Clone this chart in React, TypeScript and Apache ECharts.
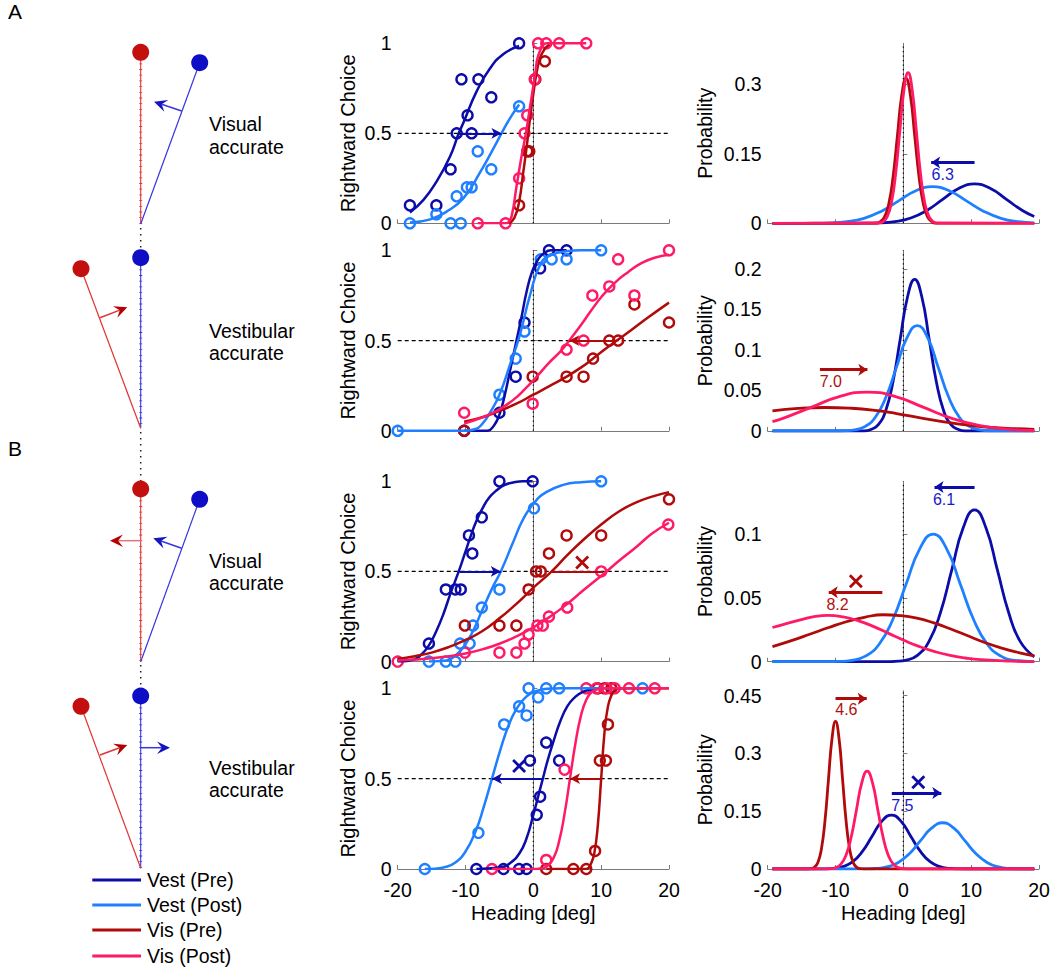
import React, { useEffect, useRef } from 'react';
import * as echarts from 'echarts';

type Pt = [number, number];

// ---------------- tick values / labels ----------------
const headingTicks = [-20, -10, 0, 10, 20];
const choiceTicks = [0, 0.5, 1];
const probTicksA1 = [0, 0.15, 0.3];
const probTicksA2 = [0, 0.05, 0.1, 0.15, 0.2];
const probTicksB1 = [0, 0.05, 0.1];
const probTicksB2 = [0, 0.15, 0.3, 0.45];
const probMaxes = [0.3885, 0.2226, 0.1413, 0.4627];
const probSteps = [0.15, 0.05, 0.05, 0.15];
const legendLabels = ['Vest (Pre)', 'Vest (Post)', 'Vis (Pre)', 'Vis (Post)'];
const rowTitles = [['Visual', 'accurate'], ['Vestibular', 'accurate'], ['Visual', 'accurate'], ['Vestibular', 'accurate']];
const panelLetters = ['A', 'B'];

// ---------------- Row A1 (visual accurate) ----------------
const a1VestPreObs: Pt[] = [[-18.2, 0.1], [-14.3, 0.1], [-12.2, 0.3], [-11.3, 0.5], [-10.6, 0.8], [-9.7, 0.6], [-9.1, 0.5], [-8.1, 0.8], [-6.2, 0.7], [-2.1, 1]];
const a1VestPostObs: Pt[] = [[-18.2, 0], [-14.3, 0.05], [-12.2, 0], [-10.7, 0], [-11.3, 0.15], [-9.8, 0.2], [-9.1, 0.2], [-8.2, 0.4], [-6.2, 0.3], [-2.1, 0.65]];
const a1VisPreObs: Pt[] = [[-2.1, 0.1], [-0.9, 0.4], [-0.6, 0.4], [0.3, 0.8], [1.7, 0.9]];
const a1VisPostObs: Pt[] = [[-8.2, 0], [-4.1, 0], [-2.1, 0.25], [-1.3, 0.5], [-0.9, 0.6], [0.2, 0.8], [0.7, 1], [1.9, 1], [3.8, 1], [7.8, 1]];
const a1VestPreFit: Pt[] = [[-18.2, 0.06], [-16.2, 0.13], [-14.3, 0.23], [-12.3, 0.37], [-11.0, 0.5], [-10.3, 0.56], [-8.4, 0.73], [-6.4, 0.86], [-4.4, 0.94], [-2.1, 0.985]];
const a1VestPostFit: Pt[] = [[-18.2, 0.004], [-15.2, 0.022], [-12.8, 0.065], [-10.3, 0.14], [-7.9, 0.28], [-5.4, 0.45], [-4.7, 0.5], [-3.5, 0.58], [-2.1, 0.66]];
const a1VisPreFit: Pt[] = [[-3.6, 0], [-2.8, 0.03], [-2.1, 0.12], [-1.5, 0.28], [-1.0, 0.42], [-0.5, 0.58], [0, 0.72], [0.5, 0.84], [1.0, 0.92], [1.7, 0.97], [2.4, 0.995]];
const a1VisPostFit: Pt[] = [[-8.2, 0], [-4.1, 0], [-3.7, 0.005], [-3.2, 0.04], [-2.5, 0.2], [-1.8, 0.36], [-1.1, 0.5], [-0.6, 0.62], [-0.1, 0.74], [0.3, 0.84], [0.7, 0.93], [1.45, 0.99], [2.0, 1], [7.8, 1]];
const a1PseArrow = [-11.0, -4.7];
const a1VestPreDist: Pt[] = [[-19.3, 0], [-8.3, 0], [-5.95, 0.0002], [-3.6, 0.0009], [-1.25, 0.0037], [1.1, 0.0115], [3.45, 0.0276], [5.8, 0.0516], [8.15, 0.075], [10.5, 0.085], [12.85, 0.075], [15.2, 0.0516], [17.55, 0.0276], [19.3, 0.0148]];
const a1VestPostDist: Pt[] = [[-19.3, 0], [-15.9, 0], [-13.375, 0.0002], [-10.85, 0.0009], [-8.325, 0.0035], [-5.8, 0.0107], [-3.275, 0.0257], [-0.75, 0.0479], [1.775, 0.0697], [4.3, 0.079], [6.825, 0.0697], [9.35, 0.0479], [11.875, 0.0257], [14.4, 0.0107], [16.925, 0.0035], [19.3, 0.001]];
const a1VisPreDist: Pt[] = [[-19.3, 0], [-4.0, 0], [-3.41, 0.0035], [-2.775, 0.0137], [-2.14, 0.0424], [-1.505, 0.1016], [-0.87, 0.1898], [-0.235, 0.2762], [0.4, 0.313], [1.035, 0.2762], [1.67, 0.1898], [2.305, 0.1016], [2.94, 0.0424], [3.575, 0.0137], [4.21, 0.0035], [4.8, 0], [19.3, 0]];
const a1VisPostDist: Pt[] = [[-19.3, 0], [-3.6, 0.0007], [-2.99, 0.0036], [-2.375, 0.0143], [-1.76, 0.044], [-1.145, 0.1055], [-0.53, 0.1971], [0.085, 0.2868], [0.7, 0.325], [1.315, 0.2868], [1.93, 0.1971], [2.545, 0.1055], [3.16, 0.044], [3.775, 0.0143], [4.39, 0.0036], [5.0, 0.0007], [19.3, 0]];
const a1DistArrow = [10.5, 4.1, 0.131];
const a1DistLabel: [number, number, string] = [5.8, 0.106, '6.3'];

// ---------------- Row A2 (vestibular accurate) ----------------
const a2VestPreObs: Pt[] = [[-10.2, 0], [-5.0, 0.1], [-2.6, 0.3], [-1.3, 0.6], [1.0, 0.9], [2.3, 1], [4.9, 1]];
const a2VestPostObs: Pt[] = [[-20, 0], [-5.0, 0.2], [-2.6, 0.4], [-1.3, 0.55], [1.1, 0.95], [2.7, 0.95], [4.9, 0.95], [10, 1]];
const a2VisPreObs: Pt[] = [[-10.2, 0], [-0.1, 0.3], [4.9, 0.3], [7.4, 0.3], [8.8, 0.4], [11.2, 0.5], [12.5, 0.5], [14.9, 0.7], [20, 0.6]];
const a2VisPostObs: Pt[] = [[-10.2, 0.1], [-0.1, 0.15], [4.9, 0.45], [7.4, 0.5], [8.7, 0.75], [11.2, 0.8], [12.5, 0.95], [14.9, 0.75], [20, 1]];
const a2VestPreFit: Pt[] = [[-10.2, 0], [-6.8, 0], [-5.8, 0.03], [-5.0, 0.09], [-4.2, 0.2], [-3.4, 0.34], [-2.6, 0.48], [-1.8, 0.62], [-1.0, 0.77], [-0.2, 0.88], [0.7, 0.95], [1.6, 0.985], [2.6, 1], [4.9, 1]];
const a2VestPostFit: Pt[] = [[-20, 0], [-10.2, 0], [-8.5, 0.01], [-7.5, 0.04], [-6.4, 0.1], [-5.0, 0.2], [-3.5, 0.36], [-2.0, 0.53], [-0.5, 0.75], [1.0, 0.92], [2.4, 0.97], [4.9, 0.995], [7, 1], [10, 1]];
const a2VisPreFit: Pt[] = [[-10.2, 0.05], [-7.5, 0.075], [-5, 0.11], [-2.5, 0.15], [0, 0.2], [2.5, 0.25], [4.9, 0.3], [7, 0.35], [8.8, 0.4], [10.5, 0.45], [12.3, 0.5], [14.5, 0.56], [17, 0.63], [20, 0.71]];
const a2VisPostFit: Pt[] = [[-10.2, 0.04], [-7.5, 0.075], [-5.4, 0.11], [-3.0, 0.17], [-1.0, 0.24], [0.5, 0.3], [2.4, 0.38], [4.0, 0.44], [5.3, 0.5], [7.0, 0.585], [8.5, 0.665], [10.0, 0.74], [12.0, 0.82], [14.0, 0.88], [16.0, 0.93], [18.0, 0.96], [20, 0.975]];
const a2PseArrow = [12.3, 5.3];
const a2VestPreDist: Pt[] = [[-19.3, 0], [-5.8, 0], [-4.72, 0.0021], [-3.655, 0.0082], [-2.59, 0.0253], [-1.525, 0.0607], [-0.46, 0.1134], [0.605, 0.165], [1.67, 0.187], [2.735, 0.165], [3.8, 0.1134], [4.865, 0.0607], [5.93, 0.0253], [6.995, 0.0082], [8.06, 0.0021], [9.1, 0], [19.3, 0]];
const a2VestPostDist: Pt[] = [[-19.3, 0], [-10.2, 0], [-8.685, 0.0003], [-7.15, 0.0014], [-5.615, 0.0057], [-4.08, 0.0176], [-2.545, 0.0422], [-1.01, 0.0788], [0.525, 0.1147], [2.06, 0.13], [3.595, 0.1147], [5.13, 0.0788], [6.665, 0.0422], [8.2, 0.0176], [9.735, 0.0057], [11.27, 0.0014], [12.8, 0.0003], [19.3, 0]];
const a2VisPreDist: Pt[] = [[-19.3, 0.0248], [-15.5, 0.0278], [-11.5, 0.029], [-8, 0.0282], [-4.5, 0.0258], [-1, 0.0215], [2.5, 0.0163], [6, 0.0113], [9.5, 0.0072], [13, 0.0043], [16.5, 0.0028], [19.3, 0.002]];
const a2VisPostDist: Pt[] = [[-19.3, 0.0116], [-17.75, 0.0156], [-13.6, 0.0291], [-9.45, 0.0424], [-5.3, 0.048], [-1.15, 0.0424], [3.0, 0.0291], [7.15, 0.0156], [11.3, 0.0065], [15.45, 0.0021], [19.3, 0.0006]];
const a2DistArrow = [-12.3, -5.3, 0.0756];
const a2DistLabel: [number, number, string] = [-10.7, 0.061, '7.0'];

// ---------------- Row B1 (visual accurate) ----------------
const b1VestPreObs: Pt[] = [[-15.4, 0.1], [-12.9, 0.4], [-11.5, 0.4], [-10.7, 0.4], [-9.5, 0.7], [-9.0, 0.6], [-7.6, 0.8], [-5.0, 1], [-0.1, 1]];
const b1VestPostObs: Pt[] = [[-15.4, 0], [-12.9, 0], [-11.5, 0], [-10.8, 0.1], [-9.4, 0.1], [-8.9, 0.2], [-7.6, 0.3], [-5.0, 0.4], [0.1, 0.85], [10, 1]];
const b1VisPreObs: Pt[] = [[-10.1, 0.2], [-5.0, 0.2], [-2.5, 0.2], [-0.7, 0.4], [0.4, 0.5], [1.1, 0.5], [2.3, 0.6], [4.9, 0.7], [10, 0.7], [20, 0.9]];
const b1VisPostObs: Pt[] = [[-20, 0], [-10.1, 0.05], [-5.0, 0.05], [-2.5, 0.05], [-1.3, 0.1], [-0.7, 0.15], [0.6, 0.2], [1.4, 0.2], [2.3, 0.25], [5.0, 0.3], [10, 0.5], [19.9, 0.76]];
const b1VestPreFit: Pt[] = [[-20, 0], [-17.7, 0.01], [-16.5, 0.04], [-15.4, 0.09], [-14.3, 0.17], [-13.3, 0.26], [-12.2, 0.38], [-11.0, 0.5], [-10.1, 0.6], [-9.2, 0.7], [-8.4, 0.78], [-7.5, 0.85], [-6.5, 0.91], [-5.4, 0.95], [-4.2, 0.98], [-3.0, 0.993], [-1.5, 1], [-0.1, 1]];
const b1VestPostFit: Pt[] = [[-15.4, 0], [-12.8, 0.006], [-11.5, 0.035], [-10.3, 0.08], [-8.9, 0.17], [-7.6, 0.28], [-5.9, 0.42], [-4.8, 0.5], [-3.0, 0.66], [-1.5, 0.79], [0.1, 0.88], [1.9, 0.94], [4.4, 0.98], [7, 0.995], [10, 1]];
const b1VisPreFit: Pt[] = [[-20, 0.015], [-17.5, 0.03], [-15, 0.05], [-12.5, 0.08], [-10, 0.12], [-7.5, 0.17], [-5, 0.24], [-2.5, 0.32], [0, 0.41], [2.7, 0.5], [5, 0.59], [7.5, 0.68], [10, 0.76], [12.5, 0.83], [15, 0.88], [17.5, 0.915], [20, 0.94]];
const b1VisPostFit: Pt[] = [[-20, 0.006], [-17.5, 0.011], [-15, 0.018], [-12.5, 0.03], [-10, 0.045], [-7.5, 0.068], [-5, 0.099], [-2.5, 0.14], [0, 0.19], [2.5, 0.25], [5, 0.32], [7.5, 0.4], [10.8, 0.5], [12.5, 0.555], [15, 0.63], [17.5, 0.71], [20, 0.77]];
const b1VestPseArrow = [-10.9, -4.8];
const b1VisPseLine = [2.7, 10.3];
const b1MidCross: Pt = [7.2, 0.55];
const b1VestPreDist: Pt[] = [[-19.3, 0], [-2.9, 0], [-1.225, 0.0003], [0.45, 0.0013], [2.125, 0.0052], [3.8, 0.0161], [5.475, 0.0386], [7.15, 0.0722], [8.825, 0.105], [10.5, 0.119], [12.175, 0.105], [13.85, 0.0722], [15.525, 0.0386], [17.2, 0.0161], [19.3, 0.0038]];
const b1VestPostDist: Pt[] = [[-19.3, 0], [-11.6, 0], [-9.6, 0.0002], [-7.6, 0.0011], [-5.6, 0.0044], [-3.6, 0.0135], [-1.6, 0.0325], [0.4, 0.0607], [2.4, 0.0883], [4.4, 0.1], [6.4, 0.0883], [8.4, 0.0607], [10.4, 0.0325], [12.4, 0.0135], [14.4, 0.0044], [16.4, 0.0011], [19.3, 0.0001]];
const b1VisPreDist: Pt[] = [[-19.3, 0.0118], [-16.5, 0.0165], [-13.8, 0.0215], [-11, 0.0268], [-8.3, 0.0315], [-5.6, 0.035], [-3, 0.0368], [-0.5, 0.0362], [2, 0.0342], [4.5, 0.0304], [7, 0.0256], [9.5, 0.0203], [12, 0.0151], [14.5, 0.0107], [17, 0.0072], [19.3, 0.0046]];
const b1VisPostDist: Pt[] = [[-19.3, 0.0268], [-17.5, 0.0295], [-15.6, 0.0322], [-13.35, 0.0351], [-11.1, 0.0363], [-8.85, 0.0351], [-6.6, 0.032], [-4.35, 0.0275], [-2.1, 0.022], [0.15, 0.0166], [2.4, 0.0118], [4.65, 0.0079], [6.9, 0.0049], [9.15, 0.0029], [11.4, 0.0016], [15.9, 0.0004], [19.3, 0.0001]];
const b1VestDistArrow = [10.5, 4.6, 0.137];
const b1VestDistLabel: [number, number, string] = [6.0, 0.127, '6.1'];
const b1VisDistArrow = [-3.1, -11.0, 0.0545];
const b1VisDistLabel: [number, number, string] = [-9.7, 0.0447, '8.2'];
const b1DistCross: Pt = [-7.0, 0.063];

// ---------------- Row B2 (vestibular accurate) ----------------
const b2VestPreObs: Pt[] = [[-8.4, 0], [-4.4, 0], [-2.1, 0], [-1.0, 0], [-0.5, 0.6], [0.5, 0.3], [1.0, 0.4], [1.9, 0.7], [3.8, 0.6]];
const b2VestPostObs: Pt[] = [[-16, 0], [-8.1, 0.2], [-4.3, 0.8], [-2.1, 0.9], [-1.0, 0.85], [-0.7, 1], [0.7, 0.95], [1.9, 1], [3.8, 1], [16.1, 1]];
const b2VisPreObs: Pt[] = [[1.9, 0], [5.9, 0], [7.8, 0], [9.1, 0.1], [9.8, 0.6], [10.7, 0.6], [11.0, 0.8], [9.5, 1], [10.5, 1], [11.5, 1]];
const b2VisPostObs: Pt[] = [[-6.1, 0], [1.9, 0.05], [4.6, 0.55], [7.8, 1], [9.3, 1], [10.8, 1], [12.0, 1], [14.1, 1], [17.9, 1]];
const b2VestPreFit: Pt[] = [[-8.4, 0], [-5, 0.008], [-3.5, 0.03], [-2, 0.09], [-1, 0.17], [0, 0.3], [0.7, 0.4], [1.4, 0.5], [2.1, 0.6], [3, 0.71], [4, 0.82], [5, 0.9], [6, 0.946], [7.3, 0.98], [9, 0.996], [10, 1]];
const b2VestPostFit: Pt[] = [[-16, 0], [-14.5, 0.002], [-13, 0.011], [-11.5, 0.036], [-10, 0.097], [-8.5, 0.21], [-7.3, 0.345], [-6.1, 0.5], [-4.9, 0.655], [-3.7, 0.79], [-2.5, 0.885], [-1, 0.955], [0.5, 0.986], [2, 0.997], [4, 1], [16.1, 1]];
const b2VisPreFit: Pt[] = [[1.9, 0], [7.8, 0], [8.5, 0.03], [9.0, 0.09], [9.5, 0.24], [10.0, 0.5], [10.5, 0.76], [11.0, 0.9], [11.5, 0.96], [12.0, 0.99], [12.7, 1], [20, 1]];
const b2VisPostFit: Pt[] = [[-6.1, 0], [0, 0], [1.0, 0.003], [1.9, 0.013], [3.0, 0.063], [3.8, 0.154], [4.6, 0.305], [5.4, 0.5], [6.2, 0.695], [7.0, 0.846], [7.8, 0.937], [8.6, 0.979], [9.5, 0.995], [10.5, 1], [20, 1]];
const b2VestPseArrow = [1.4, -6.1];
const b2VisPseArrow = [10.0, 5.4];
const b2MidCross: Pt = [-2.1, 0.57];
const b2VestPreDist: Pt[] = [[-19.3, 0], [-13.2, 0], [-11.735, 0.0003], [-10.31, 0.0016], [-8.885, 0.0061], [-7.46, 0.0189], [-6.035, 0.0455], [-4.61, 0.0849], [-3.185, 0.1236], [-1.76, 0.14], [-0.335, 0.1236], [1.09, 0.0849], [2.515, 0.0455], [3.94, 0.0189], [5.365, 0.0061], [6.79, 0.0016], [8.215, 0.0003], [9.6, 0], [19.3, 0]];
const b2VestPostDist: Pt[] = [[-19.3, 0], [-7.4, 0], [-5.75, 0.0003], [-4.1, 0.0013], [-2.45, 0.0053], [-0.8, 0.0162], [0.85, 0.039], [2.5, 0.0728], [4.15, 0.1059], [5.8, 0.12], [7.45, 0.1059], [9.1, 0.0728], [10.75, 0.039], [12.4, 0.0162], [14.05, 0.0053], [15.7, 0.0013], [17.35, 0.0003], [19.3, 0]];
const b2VisPreDist: Pt[] = [[-19.3, 0], [-14.2, 0], [-13.64, 0.0008], [-13.12, 0.0043], [-12.6, 0.0168], [-12.08, 0.0518], [-11.56, 0.1244], [-11.04, 0.2323], [-10.52, 0.338], [-10, 0.383], [-9.48, 0.338], [-8.96, 0.2323], [-8.44, 0.1244], [-7.92, 0.0518], [-7.4, 0.0168], [-6.88, 0.0043], [-6.36, 0.0008], [-5.8, 0], [19.3, 0]];
const b2VisPostDist: Pt[] = [[-19.3, 0], [-11.6, 0], [-10.835, 0.0006], [-10.05, 0.0028], [-9.265, 0.0112], [-8.48, 0.0344], [-7.695, 0.0825], [-6.91, 0.154], [-6.125, 0.2242], [-5.34, 0.254], [-4.555, 0.2242], [-3.77, 0.154], [-2.985, 0.0825], [-2.2, 0.0344], [-1.415, 0.0112], [-0.63, 0.0028], [0.155, 0.0006], [0.9, 0], [19.3, 0]];
const b2VisDistArrow = [-10.0, -5.4, 0.442];
const b2VisDistLabel: [number, number, string] = [-8.4, 0.413, '4.6'];
const b2VestDistArrow = [-1.7, 5.6, 0.197];
const b2VestDistLabel: [number, number, string] = [-0.15, 0.165, '7.5'];
const b2DistCross: Pt = [2.2, 0.225];

// ---------------- styling ----------------
const C_VEST_PRE = '#0c0ca8';
const C_VEST_POST = '#1f80ff';
const C_VIS_PRE = '#b00a0a';
const C_VIS_POST = '#ff1a66';
const T_BLUE = '#1a1ac8';
const T_RED = '#b01010';
const condColors = [C_VEST_PRE, C_VEST_POST, C_VIS_PRE, C_VIS_POST];
const FONT = 'Liberation Sans';
const AXIS_GRAY = '#7a7a7a';
const TICK_FS = 19.5;

const MID_LEFT = 397.7;
const RIGHT_LEFT = 767.7;
const PANEL_W = 271.3;
const ROW_TOP = [43.3, 250.3, 481.3, 688.3];
const ROW_H = [180, 180.5, 180.3, 180.7];
const RIGHT_TOP = [43.3, 250.5, 481.5, 690.7];
const RIGHT_H = [180, 180.5, 180.2, 178.3];

const fmtNum = (v: number) => String(+v.toFixed(3));

function fitSeries(data: Pt[], color: string, gi: number, width = 2.5) {
  return {
    type: 'line', data, xAxisIndex: gi, yAxisIndex: gi, symbol: 'none', showSymbol: false,
    smooth: 0.5, lineStyle: { color, width, join: 'round' }, silent: true, z: 4,
  };
}
function obsSeries(data: Pt[], color: string, gi: number) {
  return {
    type: 'scatter', data, xAxisIndex: gi, yAxisIndex: gi, symbol: 'circle', symbolSize: 10,
    itemStyle: { color: 'rgba(0,0,0,0)', borderColor: color, borderWidth: 2.4, opacity: 1 }, silent: true, z: 3,
  };
}
function refLine(data: Pt[], gi: number, dash: number[]) {
  return {
    type: 'line', data, xAxisIndex: gi, yAxisIndex: gi, symbol: 'none', showSymbol: false,
    lineStyle: { color: '#000', width: 1.2, type: dash }, silent: true, z: 2,
  };
}
function arrowSeries(from: number, to: number, y: number, color: string, gi: number, width: number, head = true, size: number[] = [8, 10]) {
  return {
    type: 'line', data: [], xAxisIndex: gi, yAxisIndex: gi, silent: true, z: 5,
    markLine: {
      silent: true, animation: false, symbol: head ? ['none', 'arrow'] : ['none', 'none'], symbolSize: size,
      label: { show: false }, emphasis: { disabled: true },
      lineStyle: { color, width, type: 'solid', opacity: 1 },
      data: [[{ coord: [from, y] }, { coord: [to, y] }]],
    },
  };
}
function labelSeries(lab: [number, number, string], color: string, gi: number) {
  return {
    type: 'scatter', data: [{ value: [lab[0], lab[1]], name: lab[2] }], xAxisIndex: gi, yAxisIndex: gi,
    symbolSize: 1, itemStyle: { color: 'rgba(0,0,0,0)', opacity: 1 }, silent: true, z: 6,
    label: { show: true, position: 'inside', formatter: '{b}', color, fontSize: 16, fontFamily: FONT, textBorderWidth: 0, opacity: 1 },
  };
}
function crossSeries(pt: Pt, color: string, gi: number) {
  return {
    type: 'scatter', data: [pt], xAxisIndex: gi, yAxisIndex: gi, symbol: 'path://M0,0L10,10M10,0L0,10',
    symbolSize: 12, itemStyle: { color: 'none', borderColor: color, borderWidth: 2.8, opacity: 1 }, silent: true, z: 6,
  };
}

function buildOption() {
  const grid: any[] = [];
  const xAxis: any[] = [];
  const yAxis: any[] = [];
  const series: any[] = [];

  const midObs = [
    [a1VestPreObs, a1VestPostObs, a1VisPreObs, a1VisPostObs],
    [a2VestPreObs, a2VestPostObs, a2VisPreObs, a2VisPostObs],
    [b1VestPreObs, b1VestPostObs, b1VisPreObs, b1VisPostObs],
    [b2VestPreObs, b2VestPostObs, b2VisPreObs, b2VisPostObs],
  ];
  const midFit = [
    [a1VestPreFit, a1VestPostFit, a1VisPreFit, a1VisPostFit],
    [a2VestPreFit, a2VestPostFit, a2VisPreFit, a2VisPostFit],
    [b1VestPreFit, b1VestPostFit, b1VisPreFit, b1VisPostFit],
    [b2VestPreFit, b2VestPostFit, b2VisPreFit, b2VisPostFit],
  ];
  const dists = [
    [a1VestPreDist, a1VestPostDist, a1VisPreDist, a1VisPostDist],
    [a2VestPreDist, a2VestPostDist, a2VisPreDist, a2VisPostDist],
    [b1VestPreDist, b1VestPostDist, b1VisPreDist, b1VisPostDist],
    [b2VestPreDist, b2VestPostDist, b2VisPreDist, b2VisPostDist],
  ];
  const probTicks = [probTicksA1, probTicksA2, probTicksB1, probTicksB2];

  const xAxisBase = (gi: number, bottom: boolean) => ({
    gridIndex: gi, type: 'value', min: headingTicks[0], max: headingTicks[headingTicks.length - 1], interval: 10,
    axisLine: { show: true, onZero: false, lineStyle: { color: AXIS_GRAY, width: 1 } },
    axisTick: { show: true, inside: true, length: 4, lineStyle: { color: AXIS_GRAY }, customValues: headingTicks },
    axisLabel: { show: bottom, customValues: headingTicks, color: '#000', fontSize: TICK_FS, lineHeight: 20, fontFamily: FONT, margin: 11, formatter: (v: number) => fmtNum(v) },
    splitLine: { show: false },
    name: bottom ? 'Heading [deg]' : '', nameLocation: 'middle', nameGap: 34,
    nameTextStyle: { color: '#000', fontSize: 20, fontFamily: FONT },
  });
  const yLabel = (vals: number[]) => ({
    customValues: vals, color: '#000', fontSize: TICK_FS, lineHeight: 17, fontFamily: FONT, margin: 6, formatter: (v: number) => fmtNum(v),
  });

  for (let r = 0; r < 4; r++) {
    const gm = r;
    const gr = 4 + r;
    const bottom = r === 3;
    grid[gm] = { left: MID_LEFT, width: PANEL_W, top: ROW_TOP[r], height: ROW_H[r], outerBoundsMode: 'none' };
    grid[gr] = { left: RIGHT_LEFT, width: PANEL_W, top: RIGHT_TOP[r], height: RIGHT_H[r], outerBoundsMode: 'none' };
    xAxis[gm] = xAxisBase(gm, bottom);
    xAxis[gr] = xAxisBase(gr, bottom);
    yAxis[gm] = {
      gridIndex: gm, type: 'value', min: 0, max: 1, interval: 0.5,
      axisLine: { show: true, lineStyle: { color: AXIS_GRAY, width: 1 } },
      axisTick: { show: true, inside: true, length: 4, lineStyle: { color: AXIS_GRAY }, customValues: choiceTicks },
      axisLabel: yLabel(choiceTicks),
      splitLine: { show: false },
      name: 'Rightward Choice', nameLocation: 'middle', nameGap: 40,
      nameTextStyle: { color: '#000', fontSize: 20, fontFamily: FONT },
    };
    yAxis[gr] = {
      gridIndex: gr, type: 'value', min: 0, max: probMaxes[r], interval: probSteps[r],
      axisLine: { show: true, lineStyle: { color: AXIS_GRAY, width: 1 } },
      axisTick: { show: true, inside: true, length: 4, lineStyle: { color: AXIS_GRAY }, customValues: probTicks[r] },
      axisLabel: yLabel(probTicks[r]),
      splitLine: { show: false },
      name: 'Probability', nameLocation: 'middle', nameGap: 53,
      nameTextStyle: { color: '#000', fontSize: 19.5, fontFamily: FONT },
    };

    series.push(refLine([[headingTicks[0], choiceTicks[1]], [headingTicks[4], choiceTicks[1]]], gm, [4, 3]));
    series.push(refLine([[0, choiceTicks[0]], [0, choiceTicks[2]]], gm, [1.2, 3.3]));
    series.push(refLine([[0, 0], [0, probMaxes[r]]], gr, [1.2, 3.3]));

    for (let c = 0; c < 4; c++) series.push(obsSeries(midObs[r][c], condColors[c], gm));
    for (let c = 0; c < 4; c++) series.push(fitSeries(midFit[r][c], condColors[c], gm, 2.5));
    for (let c = 0; c < 4; c++) series.push(fitSeries(dists[r][c], condColors[c], gr, 2.8));
  }

  series.push(arrowSeries(a1PseArrow[0], a1PseArrow[1], 0.5, C_VEST_PRE, 0, 2));
  series.push(arrowSeries(a2PseArrow[0], a2PseArrow[1], 0.5, C_VIS_PRE, 1, 2));
  series.push(arrowSeries(b1VestPseArrow[0], b1VestPseArrow[1], 0.5, C_VEST_PRE, 2, 2));
  series.push(arrowSeries(b1VisPseLine[0], b1VisPseLine[1], 0.5, C_VIS_PRE, 2, 2, false));
  series.push(crossSeries(b1MidCross, C_VIS_PRE, 2));
  series.push(arrowSeries(b2VestPseArrow[0], b2VestPseArrow[1], 0.5, C_VEST_PRE, 3, 2));
  series.push(arrowSeries(b2VisPseArrow[0], b2VisPseArrow[1], 0.5, C_VIS_PRE, 3, 2));
  series.push(crossSeries(b2MidCross, C_VEST_PRE, 3));

  series.push(arrowSeries(a1DistArrow[0], a1DistArrow[1], a1DistArrow[2], C_VEST_PRE, 4, 3, true, [9, 9]));
  series.push(labelSeries(a1DistLabel, T_BLUE, 4));
  series.push(arrowSeries(a2DistArrow[0], a2DistArrow[1], a2DistArrow[2], C_VIS_PRE, 5, 3, true, [9, 9]));
  series.push(labelSeries(a2DistLabel, T_RED, 5));
  series.push(arrowSeries(b1VestDistArrow[0], b1VestDistArrow[1], b1VestDistArrow[2], C_VEST_PRE, 6, 3, true, [9, 9]));
  series.push(labelSeries(b1VestDistLabel, T_BLUE, 6));
  series.push(arrowSeries(b1VisDistArrow[0], b1VisDistArrow[1], b1VisDistArrow[2], C_VIS_PRE, 6, 3, true, [9, 9]));
  series.push(labelSeries(b1VisDistLabel, T_RED, 6));
  series.push(crossSeries(b1DistCross, C_VIS_PRE, 6));
  series.push(arrowSeries(b2VisDistArrow[0], b2VisDistArrow[1], b2VisDistArrow[2], C_VIS_PRE, 7, 3, true, [9, 9]));
  series.push(labelSeries(b2VisDistLabel, T_RED, 7));
  series.push(arrowSeries(b2VestDistArrow[0], b2VestDistArrow[1], b2VestDistArrow[2], C_VEST_PRE, 7, 3, true, [9, 9]));
  series.push(labelSeries(b2VestDistLabel, T_BLUE, 7));
  series.push(crossSeries(b2DistCross, C_VEST_PRE, 7));

  return { animation: false, backgroundColor: '#fff', grid, xAxis, yAxis, series, graphic: buildGraphic() };
}

function buildGraphic() {
  const els: any[] = [];
  const RED_LINE = '#e03434';
  const BLUE_LINE = '#3636e0';
  const RED_DOT = '#c40f0f';
  const BLUE_DOT = '#0e0ec6';
  const RED_HEAD = '#b40000';
  const BLUE_HEAD = '#1414c0';
  const SX = 140.7;

  const seg = (x1: number, y1: number, x2: number, y2: number, color: string, w = 1.2, dash?: number[]) =>
    els.push({ type: 'line', silent: true, shape: { x1, y1, x2, y2 }, style: { stroke: color, lineWidth: w, lineDash: dash } });
  const dot = (cx: number, cy: number, color: string) =>
    els.push({ type: 'circle', silent: true, shape: { cx, cy, r: 8.5 }, style: { fill: color } });
  const ruler = (x: number, y1: number, y2: number, color: string) => {
    seg(x, y1, x, y2, color, 1.1);
    seg(x, y1, x, y2, color, 3, [0.8, 4.9]);
  };
  const dotted = (x: number, y1: number, y2: number) => seg(x, y1, x, y2, '#222', 1.5, [1.4, 4.6]);
  const arrow = (x1: number, y1: number, x2: number, y2: number, lineColor: string, headColor: string) => {
    const dx = x2 - x1, dy = y2 - y1, len = Math.hypot(dx, dy);
    const ux = dx / len, uy = dy / len, nx = -uy, ny = ux;
    const L = 13, W = 6.2;
    const bx = x2 - ux * L, by = y2 - uy * L;
    const mx = x2 - ux * L * 0.62, my = y2 - uy * L * 0.62;
    seg(x1, y1, mx, my, lineColor, 1.5);
    els.push({
      type: 'polygon', silent: true,
      shape: { points: [[x2, y2], [bx + nx * W, by + ny * W], [mx, my], [bx - nx * W, by - ny * W]] },
      style: { fill: headColor },
    });
  };
  const text = (x: number, y: number, s: string, size: number, color = '#000') =>
    els.push({ type: 'text', silent: true, x, y, style: { text: s, fill: color, fontSize: size, fontFamily: FONT, align: 'left', verticalAlign: 'middle' } });

  ruler(SX, 52, 224, RED_LINE);
  seg(SX, 224, 199.7, 62.7, BLUE_LINE, 1.2);
  dot(SX, 52.3, RED_DOT);
  dot(199.7, 62.7, BLUE_DOT);
  arrow(181.7, 111, 154, 101.7, BLUE_LINE, BLUE_HEAD);
  dotted(SX, 228, 248);

  ruler(SX, 258, 428.3, BLUE_LINE);
  seg(SX, 428.3, 81, 268.7, RED_LINE, 1.2);
  dot(SX, 257.7, BLUE_DOT);
  dot(81, 268.7, RED_DOT);
  arrow(100, 317.7, 127.3, 307.3, RED_LINE, RED_HEAD);
  dotted(SX, 432, 481);

  ruler(SX, 489, 661.7, RED_LINE);
  seg(SX, 661.7, 199.7, 499.3, BLUE_LINE, 1.2);
  dot(SX, 489, RED_DOT);
  dot(199.7, 499.3, BLUE_DOT);
  arrow(SX, 540.7, 110, 540.7, '#e67676', RED_HEAD);
  arrow(181.7, 548.3, 153.3, 538.3, BLUE_LINE, BLUE_HEAD);
  dotted(SX, 665, 688);

  ruler(SX, 696, 868.3, BLUE_LINE);
  seg(SX, 868.3, 81, 706.3, RED_LINE, 1.2);
  dot(SX, 696, BLUE_DOT);
  dot(81, 706.3, RED_DOT);
  arrow(100, 755, 127.3, 745, RED_LINE, RED_HEAD);
  arrow(SX, 747.7, 170, 747.7, BLUE_LINE, BLUE_HEAD);

  const titleY = [[124, 146.7], [330.7, 352.7], [561, 583.3], [767.7, 790]];
  rowTitles.forEach((t, i) => { text(209, titleY[i][0], t[0], 19.5); text(209, titleY[i][1], t[1], 19.5); });

  text(8, 11, panelLetters[0], 21);
  text(8, 448, panelLetters[1], 21);

  const legY = [880, 905, 930, 956];
  legendLabels.forEach((lab, i) => {
    seg(92.3, legY[i], 141, legY[i], condColors[i], 3);
    text(147, legY[i], lab, 19.5);
  });
  return els;
}

export default function App() {
  const ref = useRef<HTMLDivElement>(null);
  useEffect(() => {
    document.body.style.margin = '0';
    if (!ref.current) return;
    const chart = echarts.init(ref.current, undefined, { renderer: 'svg' });
    chart.setOption(buildOption() as any);
    return () => chart.dispose();
  }, []);
  return <div ref={ref} style={{ width: 1050, height: 967 }} />;
}
